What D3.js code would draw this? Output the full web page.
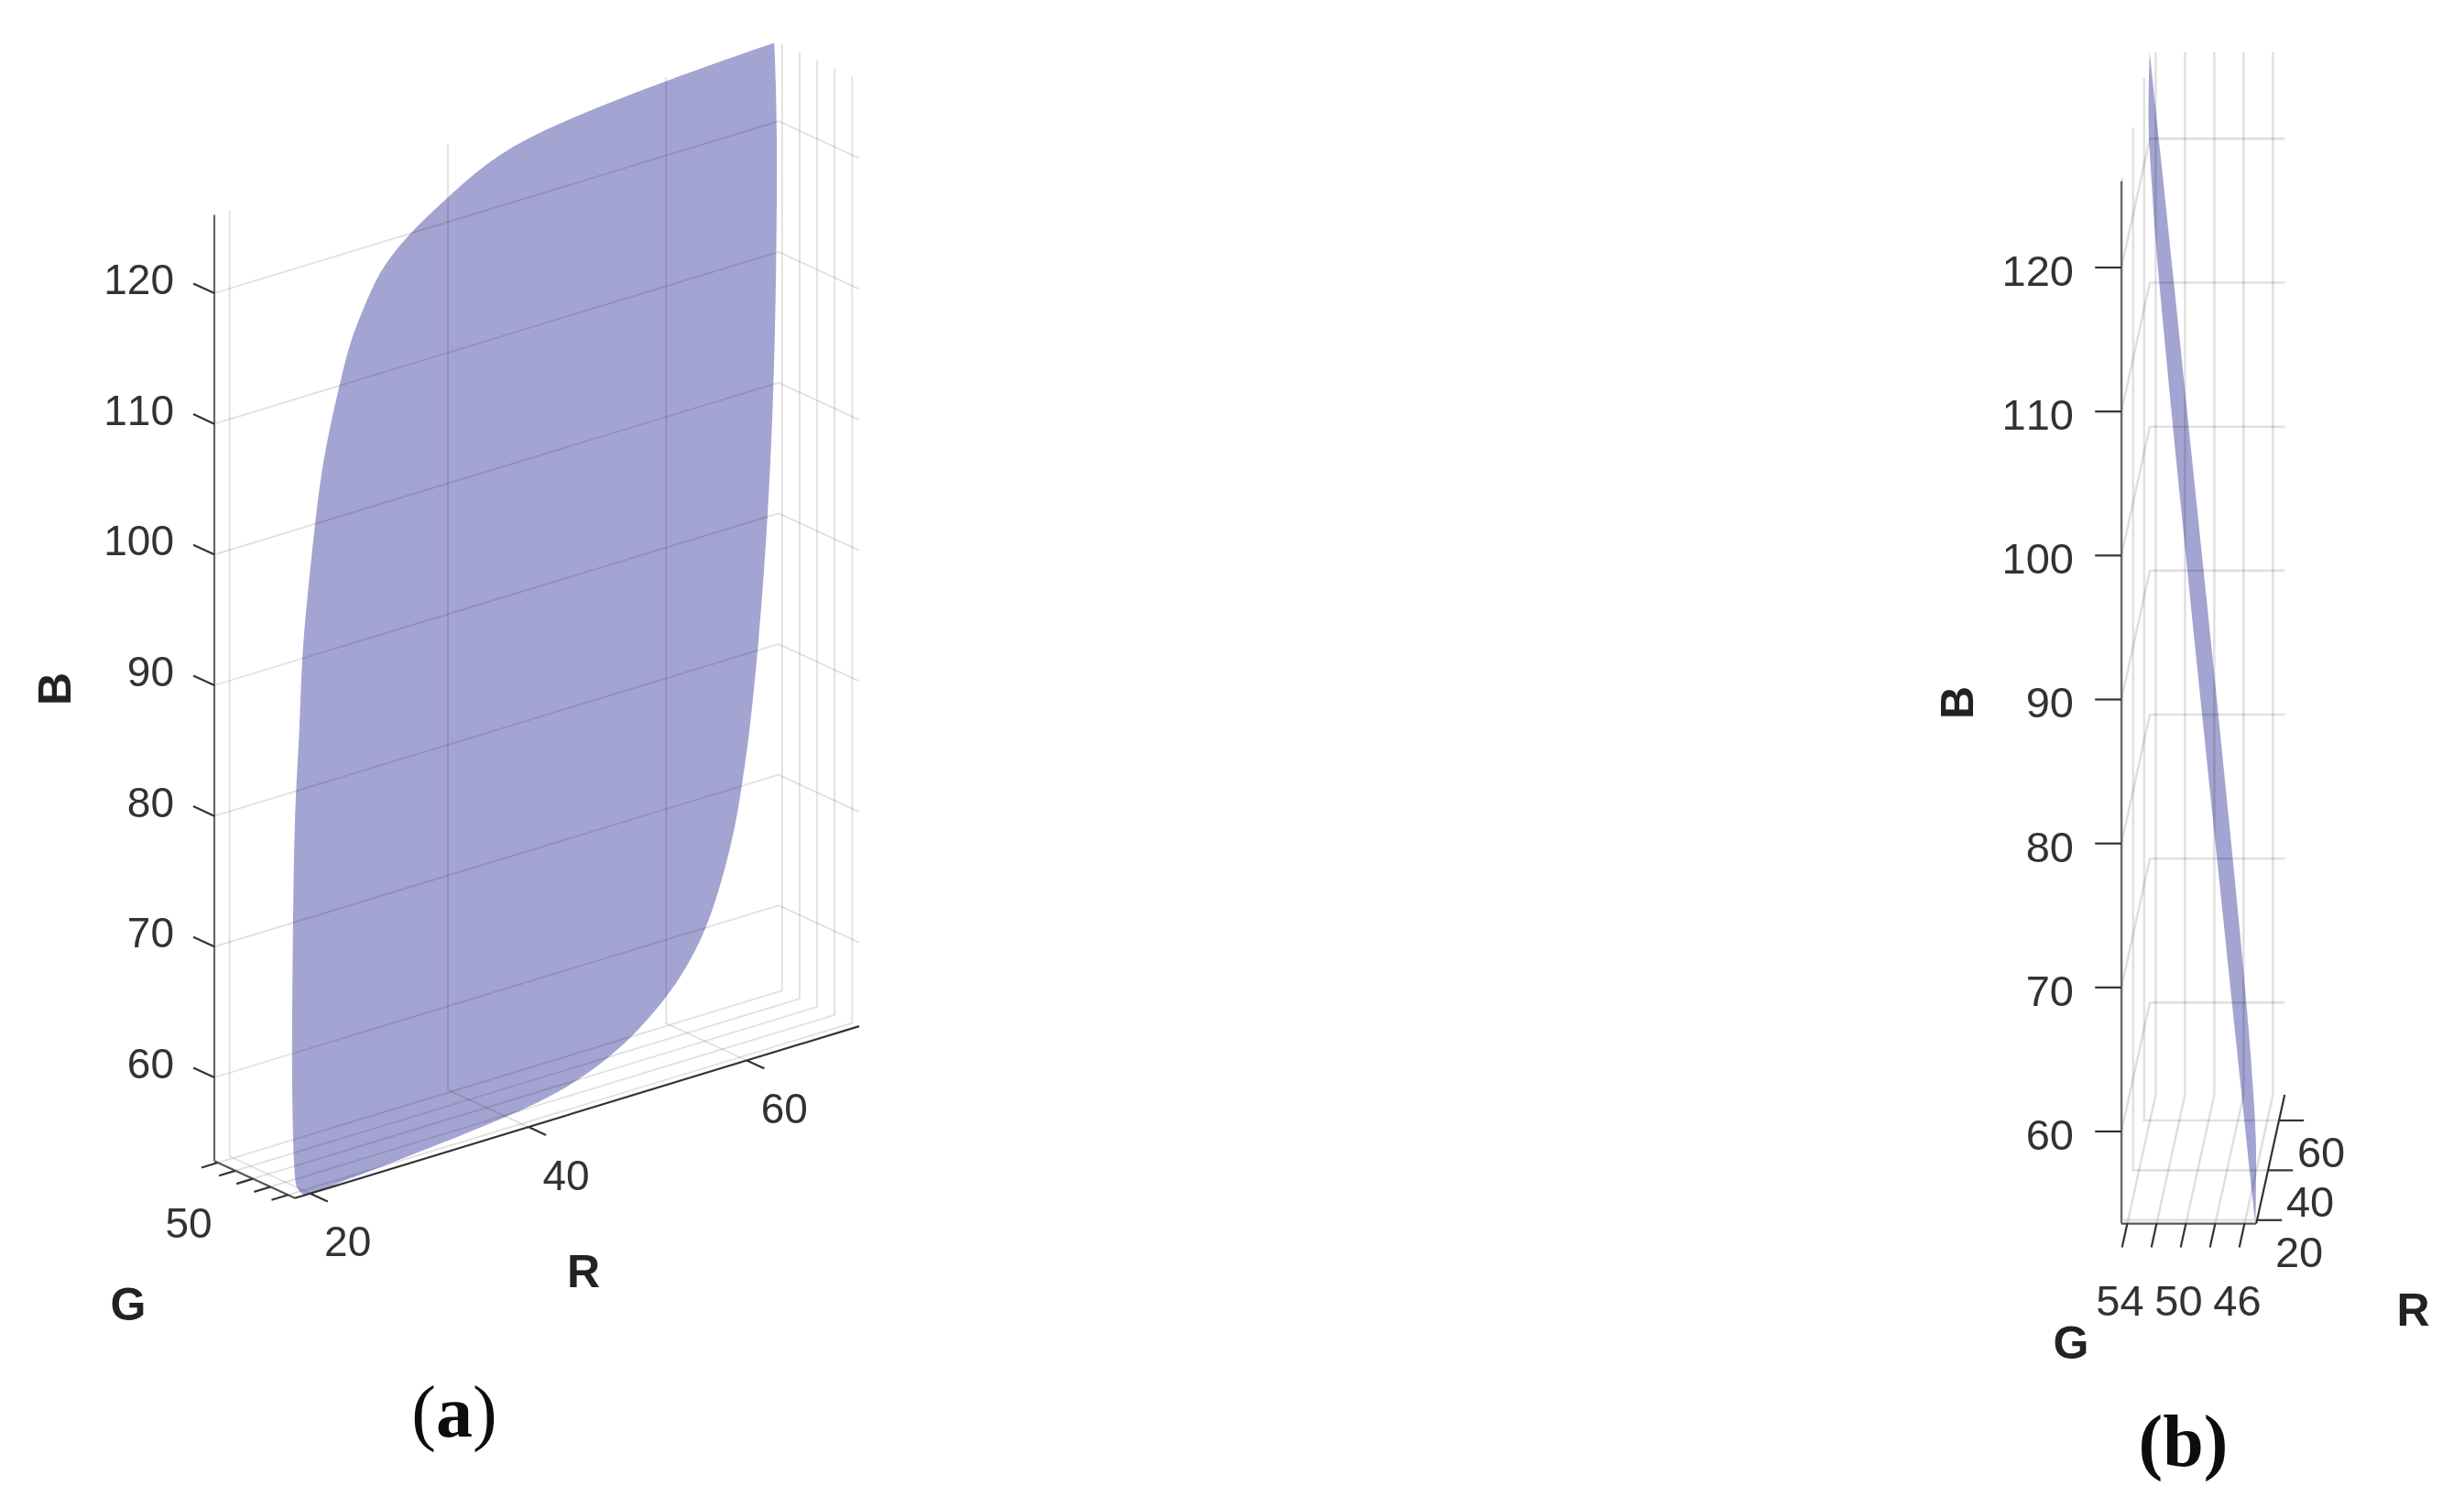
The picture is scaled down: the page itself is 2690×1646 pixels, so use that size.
<!DOCTYPE html>
<html><head><meta charset="utf-8">
<script src="https://cdn.jsdelivr.net/npm/d3@7/dist/d3.min.js"></script>
<style>html,body{margin:0;padding:0;background:#fff}svg{display:block}text{font-kerning:none}</style>
</head><body><svg id="c" width="2690" height="1646"></svg>
<script>
// Axis tick values
const ticksR = [20, 40, 60];
const ticksG = [54, 52, 50, 48, 46];
const ticksB = [60, 70, 80, 90, 100, 110, 120];
const limR = [18.6, 70.3];
const limG = [54.4, 45.2];
const limB = [53.6, 126];
// Surface outline, as read from the two views
const surfaceR = [69.9,59.7,52.0,46.5,42.6,38.8,34.9,32.2,30.7,29.1,27.9,26.5,25.4,24.5,23.6,22.6,22.0,21.2,20.5,19.8,19.1,18.7,18.9,19.6,29.0,39.0,43.5,48.0,51.3,54.2,56.5,58.5,60.3,61.7,62.8,63.3,64.7,66.1,67.4,68.6,69.7];
const surfaceG = [54.4,54.07,53.81,53.6,53.39,53.1,52.8,52.52,52.26,51.97,51.64,51.24,50.86,50.42,49.99,49.45,48.9,48.4,47.74,46.98,46.2,45.43,45.34,45.29,45.61,45.97,46.15,46.41,46.67,46.94,47.22,47.54,47.96,48.36,48.81,49.01,49.7,50.54,51.46,52.54,53.78];
const surfaceB = [126.1,125.9,125.5,125.0,124.1,122.5,120.7,118.8,116.7,114.5,111.6,108.2,104.8,101.0,97.1,92.2,87.2,82.6,76.6,69.5,62.3,55.1,54.1,53.5,53.9,54.5,55.0,56.2,57.7,59.5,61.5,64.0,67.5,70.9,74.9,76.6,82.9,90.4,98.7,108.8,120.3];
const labelsGa = [50];
const labelsGb = [54, 50, 46];

const root = d3.select('#c');
root.append('defs').append('filter').attr('id', 'soft')
  .attr('x', 0).attr('y', 0)
  .attr('filterUnits', 'userSpaceOnUse')
  .attr('width', 2690).attr('height', 1646)
  .append('feGaussianBlur').attr('stdDeviation', 0.7);
const svg = root.append('g').attr('filter', 'url(#soft)');
const sans = '"Liberation Sans", Arial, sans-serif';
const serif = '"Liberation Serif", "Times New Roman", serif';

function panel(o) {
  const xR = d3.scaleLinear().domain(limR).range([0, o.rx]);
  const yR = d3.scaleLinear().domain(limR).range([0, o.ry]);
  const xG = d3.scaleLinear().domain(limG).range([0, o.gx]);
  const yG = d3.scaleLinear().domain(limG).range([0, o.gy]);
  const yB = d3.scaleLinear().domain([60, 120]).range(o.by);
  const P = (r, g, b) => [o.x0 + xR(r) + xG(g), yB(b) + yR(r) + yG(g)];
  const g = svg.append('g');
  const [rMin, rMax] = limR, [gMax, gMin] = limG, [bMin, bMax] = limB;
  const line = d3.line();

  // surface: two smoothed runs, pinned at the top tip and the bottom corner
  const pts = surfaceR.map((r, i) => P(r, surfaceG[i], surfaceB[i]));
  const smooth = d3.line().curve(d3.curveBasis);
  const runA = smooth(pts.slice(0, 24));
  const runB = smooth(pts.slice(23).concat([pts[0]])).replace('M', 'L');
  g.append('path')
    .attr('d', runA + runB + 'Z')
    .attr('fill', '#5050aa').attr('fill-opacity', 0.525);

  // grid on the three back planes
  const grid = [];
  ticksB.forEach(b => grid.push([P(rMin, gMax, b), P(rMax, gMax, b), P(rMax, gMin, b)]));
  ticksR.forEach(r => {
    grid.push([P(r, gMax, bMax), P(r, gMax, bMin), P(r, gMin, bMin)]);
  });
  ticksG.forEach(v => {
    grid.push([P(rMin, v, bMin), P(rMax, v, bMin), P(rMax, v, bMax)]);
  });
  g.append('g').selectAll('path').data(grid).join('path')
    .attr('d', d => line(d)).attr('fill', 'none')
    .attr('stroke', '#000').attr('stroke-opacity', 0.12).attr('stroke-width', o.gw);

  // axis lines
  const axes = [
    {p: [P(rMin, gMax, bMin), P(rMin, gMax, bMax)], c: '#666', w: 2.2},
    {p: [P(rMin, gMax, bMin), P(rMin, gMin, bMin)], c: '#555', w: 2.2},
    {p: [P(rMin, gMin, bMin), P(rMax, gMin, bMin)], c: '#333', w: 2.2}
  ];
  g.append('g').selectAll('path').data(axes).join('path')
    .attr('d', d => line(d.p)).attr('fill', 'none')
    .attr('stroke', d => d.c).attr('stroke-width', d => d.w);

  // ticks
  const ticks = [];
  ticksB.forEach(b => ticks.push([P(rMin, gMax, b), P(rMin, gMax + o.tb, b)]));
  ticksR.forEach(r => ticks.push([P(r, gMin, bMin), P(r, gMin - o.tr, bMin)]));
  ticksG.forEach(v => ticks.push([P(rMin, v, bMin), P(rMin - o.tg, v, bMin)]));
  g.append('g').selectAll('path').data(ticks).join('path')
    .attr('d', d => line(d)).attr('fill', 'none')
    .attr('stroke', '#333').attr('stroke-width', 2.2);

  // tick labels
  const tl = [];
  ticksB.forEach(b => { const p = P(rMin, gMax, b); tl.push({t: b, x: o.blx, y: p[1] + o.bldy, a: 'end'}); });
  ticksR.forEach(r => { const p = P(r, gMin, bMin); tl.push({t: r, x: p[0] + o.rl[0], y: p[1] + o.rl[1], a: 'middle'}); });
  o.labelsG.forEach(v => { const p = P(rMin, v, bMin); tl.push({t: v, x: p[0] + o.gl[0], y: p[1] + o.gl[1], a: 'middle'}); });
  g.append('g').selectAll('text').data(tl).join('text')
    .attr('x', d => d.x).attr('y', d => d.y).attr('dy', '.36em')
    .attr('text-anchor', d => d.a).attr('font-family', sans)
    .attr('font-size', o.fs).attr('fill', '#333').text(d => d.t);

  // axis titles
  const titles = [
    {t: 'G', x: o.G[0], y: o.G[1], r: 0},
    {t: 'R', x: o.R[0], y: o.R[1], r: 0},
    {t: 'B', x: o.B[0], y: o.B[1], r: -90}
  ];
  g.append('g').selectAll('text').data(titles).join('text')
    .attr('transform', d => `translate(${d.x},${d.y}) rotate(${d.r})`)
    .attr('dy', '.36em').attr('text-anchor', 'middle')
    .attr('font-family', sans).attr('font-weight', 'bold')
    .attr('font-size', 50).attr('fill', '#222').text(d => d.t);
}

panel({x0: 234, rx: 616, ry: -187.7, gx: 88, gy: 40.5, by: [1176, 320], gw: 1.8,
  tb: 2.4, tr: 2, tg: 1.5, blx: 190, bldy: -15.5, rl: [41, 52], gl: [-70, 48], fs: 46,
  labelsG: labelsGa, G: [140, 1423], R: [637, 1387], B: [59, 752]});
panel({x0: 2316, rx: 31, ry: -140.6, gx: 147.2, gy: 0, by: [1235, 292], gw: 2.6,
  tb: 1.8, tr: 1.7, tg: 9.5, blx: 2264, bldy: 3, rl: [46, 34], gl: [-8, 83.5], fs: 47,
  labelsG: labelsGb, G: [2261, 1465], R: [2634.5, 1429], B: [2136, 767]});

// sub-figure captions
const cap = svg.append('g').attr('font-family', serif).attr('fill', '#111');
const a = cap.append('text').attr('x', 496).attr('y', 1568).attr('text-anchor', 'middle').attr('font-size', 80);
a.append('tspan').text('(');
a.append('tspan').attr('font-weight', 'bold').text('a');
a.append('tspan').text(')');
cap.append('text').attr('x', 2383.5).attr('y', 1600).attr('text-anchor', 'middle')
  .attr('font-size', 80).attr('font-weight', 'bold').text('(b)');
</script></body></html>
